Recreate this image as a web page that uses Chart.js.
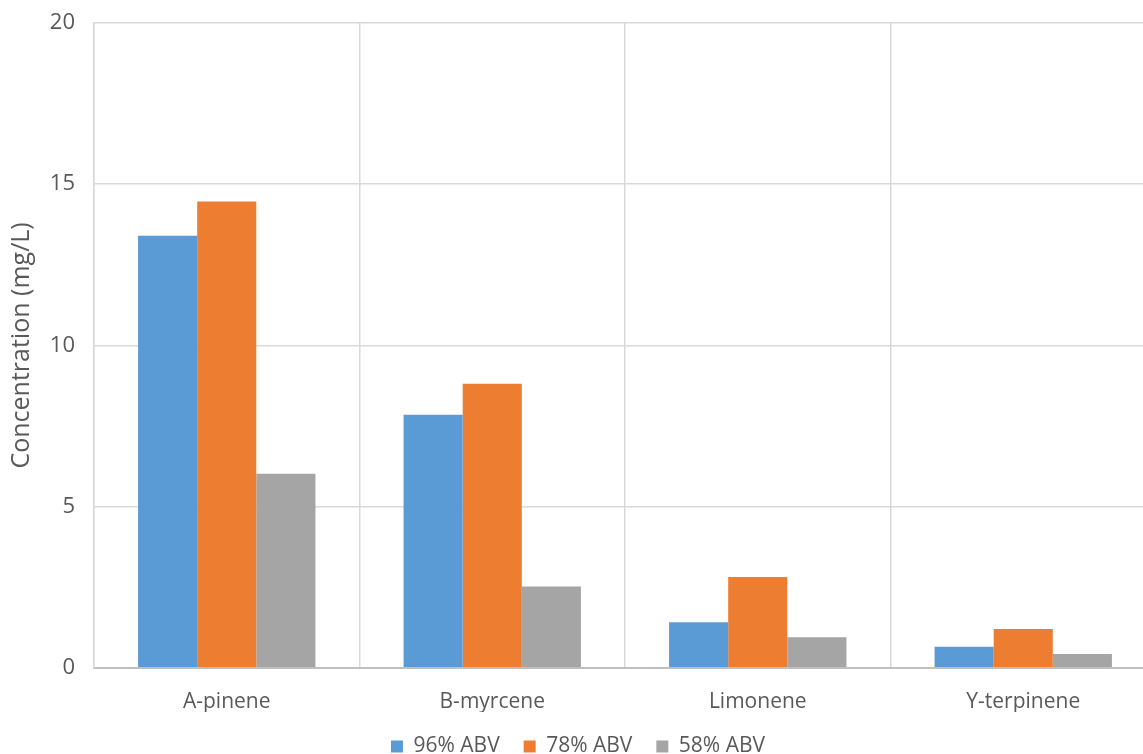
<!DOCTYPE html>
<html>
<head>
<meta charset="utf-8">
<title>Terpene concentration by ABV</title>
<script src="https://cdn.jsdelivr.net/npm/chart.js@4.4.1/dist/chart.umd.min.js"></script>
<style>
  html, body { margin: 0; padding: 0; background: #fff; overflow: hidden; }
  #wrap { position: relative; width: 1170px; height: 767px; }
</style>
</head>
<body>
<div id="wrap"><canvas id="chart"></canvas></div>
<script>
// Compounds measured
const categories = ['A-pinene', 'B-myrcene', 'Limonene', 'Y-terpinene'];

// Concentration (mg/L) per distillate strength
const abv96 = [13.4, 7.85, 1.41, 0.65];
const abv78 = [14.46, 8.81, 2.82, 1.2];
const abv58 = [6.02, 2.52, 0.95, 0.43];

const seriesNames = ['96% ABV', '78% ABV', '58% ABV'];
const yTicks = [0, 5, 10, 15, 20];

const textColor = '#595959';
const gridColor = '#d9d9d9';
const fontFamily = '"Open Sans", "Noto Sans", sans-serif';

new Chart(document.getElementById('chart'), {
  type: 'bar',
  data: {
    labels: categories,
    datasets: [
      { label: seriesNames[0], data: abv96, backgroundColor: '#5b9bd5' },
      { label: seriesNames[1], data: abv78, backgroundColor: '#ed7d31' },
      { label: seriesNames[2], data: abv58, backgroundColor: '#a5a5a5' }
    ]
  },
  options: {
    responsive: true,
    maintainAspectRatio: false,
    animation: false,
    layout: { padding: { top: 23, right: 14, left: 0, bottom: 0 } },
    datasets: { bar: { categoryPercentage: 0.668, barPercentage: 1.0 } },
    plugins: {
      tooltip: { enabled: false },
      legend: {
        position: 'bottom',
        labels: {
          color: textColor,
          font: { family: fontFamily, size: 21 },
          boxWidth: 12,
          boxHeight: 12,
          padding: 24
        }
      }
    },
    scales: {
      x: {
        grid: { color: gridColor, lineWidth: 1.5, drawTicks: false, offset: true },
        border: { color: '#bfbfbf', width: 2 },
        ticks: { color: textColor, font: { family: fontFamily, size: 21 }, padding: 22 },
        // let the legend sit closer under the category labels
        afterFit: axis => { axis.height -= 25; }
      },
      y: {
        min: 0,
        max: 20,
        afterBuildTicks: axis => { axis.ticks = yTicks.map(v => ({ value: v })); },
        afterFit: axis => {
          axis.width = 94;
          axis.paddingTop = 0;
          axis.paddingBottom = 0;
        },
        grid: { color: gridColor, lineWidth: 1.5, drawTicks: false },
        border: { color: gridColor, width: 1.5 },
        ticks: { color: textColor, font: { family: fontFamily, size: 22 }, padding: 19 },
        title: {
          display: true,
          text: 'Concentration (mg/L)',
          color: textColor,
          font: { family: fontFamily, size: 25 },
          padding: { top: 7, bottom: 0 }
        }
      }
    }
  }
});
</script>
</body>
</html>
